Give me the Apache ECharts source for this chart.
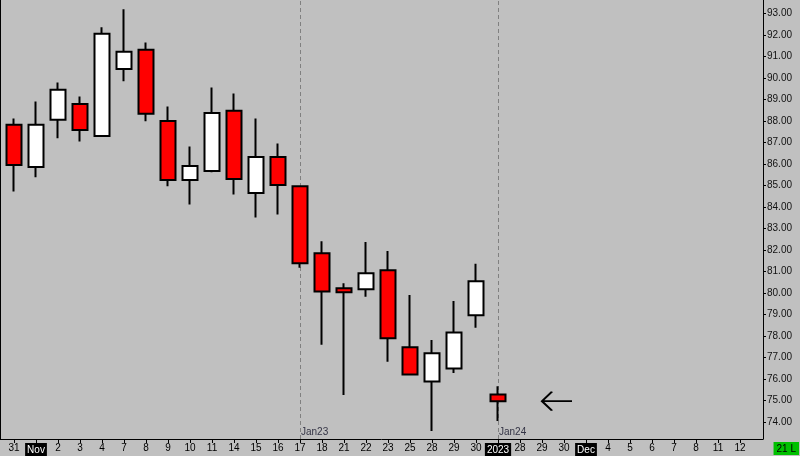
<!DOCTYPE html>
<html>
<head>
<meta charset="utf-8">
<script src="https://cdn.jsdelivr.net/npm/echarts@6/dist/echarts.min.js"></script>
<style>html,body{margin:0;padding:0;background:#c0c0c0;}#c{width:800px;height:456px;}</style>
</head>
<body>
<div id="c"></div>
<script>
const categories = ['31','Nov','2','3','4','7','8','9','10','11','14','15','16','17','18','21','22','23','25','28','29','30','2023','28','29','30','Dec','4','5','6','7','8','11','12'];
const highlighted = ['Nov','2023','Dec'];
const opens  = [87.82,85.86,88.05,88.79,87.30,90.41,91.31,88.00,85.25,85.67,88.47,84.65,86.33,84.97,81.85,80.22,80.18,81.06,77.48,75.89,76.50,78.97,75.29];
const closes = [85.95,87.82,89.45,87.58,92.05,91.22,88.33,85.25,85.91,88.37,85.30,86.33,85.02,81.39,80.08,80.04,80.92,77.90,76.22,77.20,78.17,80.55,74.98];
const lows   = [84.72,85.38,87.19,87.05,87.30,89.85,87.98,84.96,84.12,85.61,84.58,83.51,83.65,81.18,77.60,75.27,79.83,76.81,76.22,73.59,76.29,78.39,74.06];
const highs  = [88.11,88.90,89.79,89.13,92.35,93.19,91.65,88.67,86.81,89.55,89.27,88.11,86.95,84.97,82.41,80.46,82.38,81.96,79.91,77.82,79.63,81.36,75.67];
const yTicks = [74,75,76,77,78,79,80,81,82,83,84,85,86,87,88,89,90,91,92,93];
const lastPrice = 74.98;
const periodMarks = [{index:13,label:'Jan23'},{index:22,label:'Jan24'}];
const arrowAt = 25;

const candleData = opens.map((o,i)=>[o, closes[i], lows[i], highs[i]]);
const FONT = 'Liberation Sans';

const chart = echarts.init(document.getElementById('c'), null, {renderer:'canvas'});
chart.setOption({
  backgroundColor:'#c0c0c0',
  animation:false,
  grid:[
    {left:3, top:0, width:748, bottom:17},
    {left:0, top:0, width:763, bottom:17}
  ],
  xAxis:[
    {type:'category', gridIndex:0, data:categories, boundaryGap:true,
     axisLine:{show:false},
     axisTick:{show:true, alignWithLabel:true, length:4, lineStyle:{color:'#000'}},
     axisLabel:{interval:0, margin:4, fontSize:10, fontFamily:FONT, color:'#000',
       formatter:(v)=> highlighted.includes(v) ? '{hl|'+v+'}' : v,
       rich:{hl:{backgroundColor:'#000', color:'#fff', fontSize:10, fontFamily:FONT, padding:[2,2,1,2]}}},
     splitLine:{show:false}},
    {type:'value', gridIndex:1, min:0, max:1,
     axisLine:{show:true, onZero:false, lineStyle:{color:'#000', width:1}},
     axisTick:{show:false}, axisLabel:{show:false}, splitLine:{show:false}}
  ],
  yAxis:[
    {type:'value', gridIndex:0, position:'right', offset:12, min:73.22, max:93.62, scale:true,
     axisLine:{show:true, lineStyle:{color:'#000', width:1}},
     axisTick:{show:true, length:3, customValues:yTicks, lineStyle:{color:'#000'}},
     axisLabel:{margin:4, fontSize:10, fontFamily:FONT, color:'#111', customValues:yTicks,
       formatter:(v)=>v.toFixed(2)},
     splitLine:{show:false}},
    {type:'value', gridIndex:1, position:'left', min:0, max:1,
     axisLine:{show:true, onZero:false, lineStyle:{color:'#000', width:1}},
     axisTick:{show:false}, axisLabel:{show:false}, splitLine:{show:false}}
  ],
  series:[
    {type:'candlestick', xAxisIndex:0, yAxisIndex:0, data:candleData, barWidth:15, z:5,
     itemStyle:{color:'#ffffff', color0:'#ff0000', borderColor:'#000', borderColor0:'#000', borderWidth:2},
     markLine:{silent:true, symbol:['none','none'], animation:false, z:1,
       data:[
         ...periodMarks.map(p=>({xAxis:p.index, lineStyle:{type:[4,3], color:'#808080', width:1}, label:{show:false}})),
         {yAxis:lastPrice, lineStyle:{opacity:0},
          label:{show:true, position:'end', distance:[16,0], formatter:lastPrice.toFixed(2),
                 backgroundColor:'#fff', color:'#000', fontSize:10, fontFamily:FONT, padding:[2,1,1,1]}}
       ]},
     markPoint:{silent:true, animation:false,
       data:[
         ...periodMarks.map(p=>({coord:[p.index, 73.55], symbol:'circle', symbolSize:0,
            label:{show:true, position:'right', distance:1, formatter:p.label, color:'#334', fontSize:10, fontFamily:FONT}})),
         {coord:[arrowAt, lastPrice], symbol:'path://M0,9L30,9M10,0L0,9L10,18', symbolSize:[30,19], symbolOffset:[-7,0],
          itemStyle:{color:'none', borderColor:'#000', borderWidth:2}, label:{show:false}}
       ]}
    }
  ],
  graphic:[
    {type:'text', right:1, bottom:1, style:{text:'21 L', fill:'#000', backgroundColor:'#00c000', padding:[2,3,1,3], font:'10px "Liberation Sans"'}}
  ]
});
</script>
</body>
</html>
